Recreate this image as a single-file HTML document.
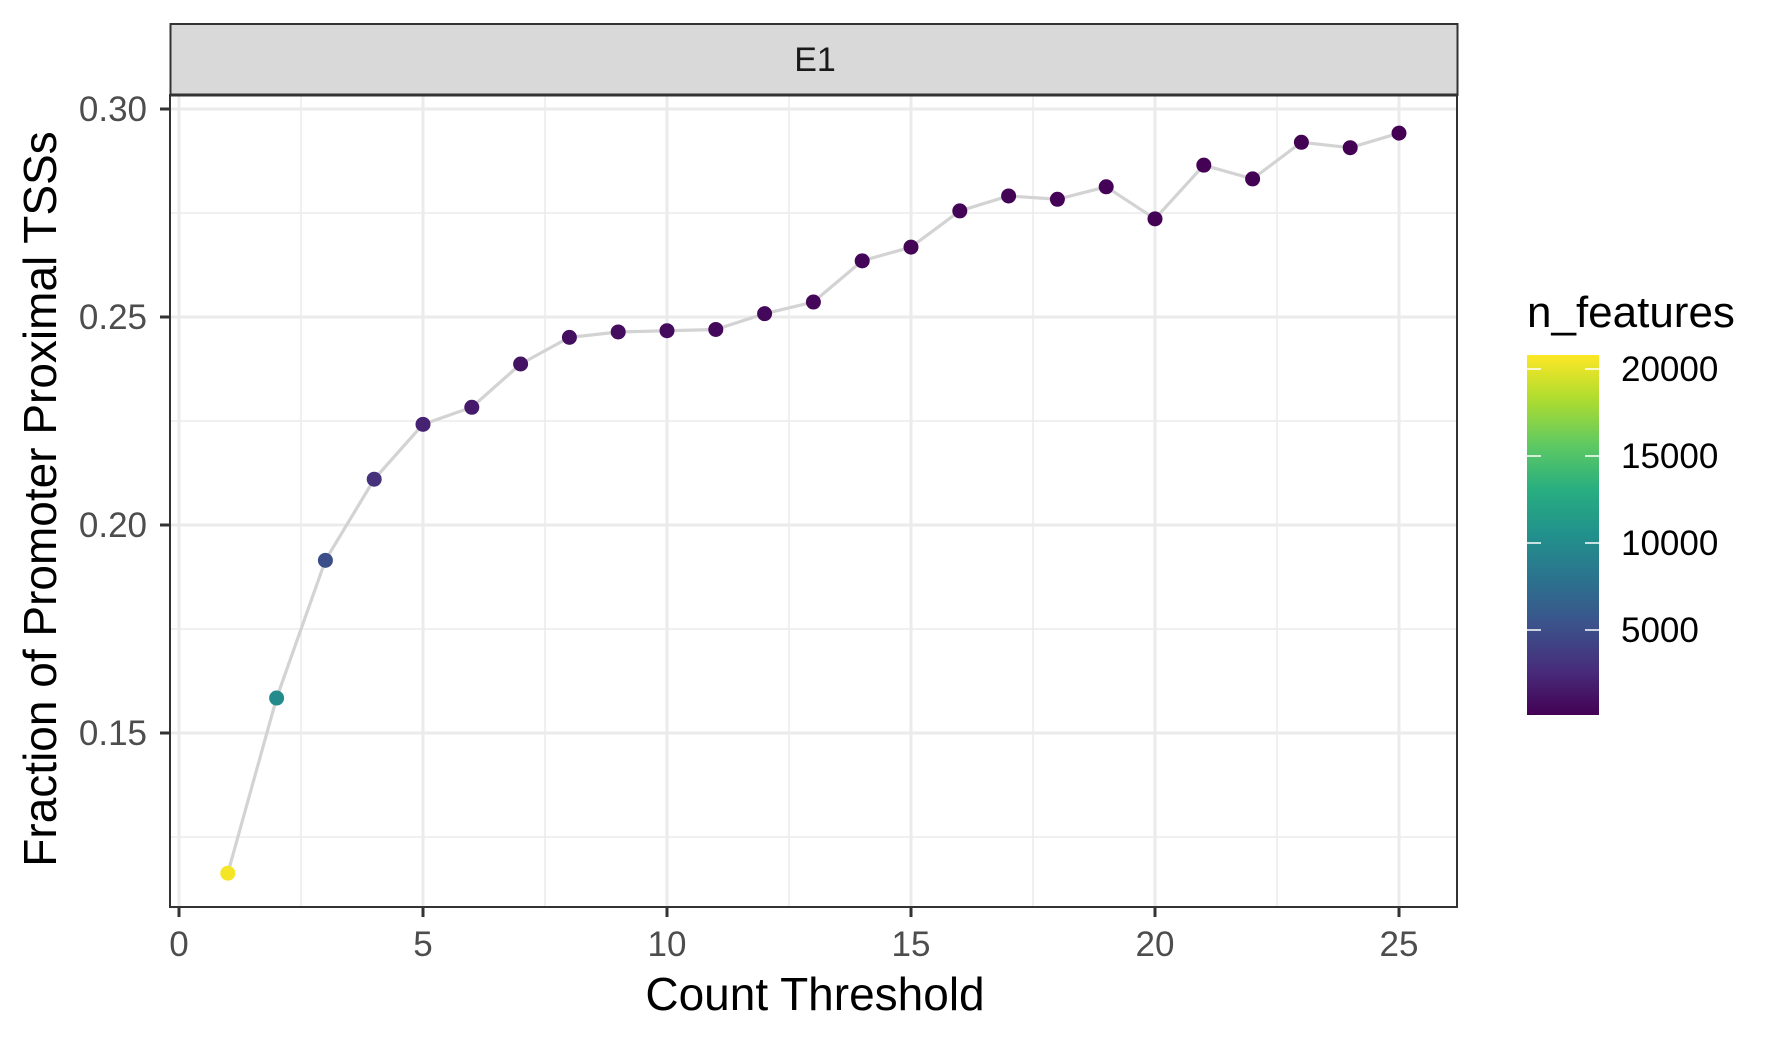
<!DOCTYPE html>
<html><head><meta charset="utf-8"><style>
html,body{margin:0;padding:0;background:#fff;}
svg{display:block;font-family:"Liberation Sans",sans-serif;}
</style></head><body>
<svg id="chart" width="1784" height="1043" viewBox="0 0 1784 1043" xmlns="http://www.w3.org/2000/svg">
<defs>
<linearGradient id="vir" x1="0" y1="1" x2="0" y2="0">
<stop offset="0" stop-color="#440154"/><stop offset="0.125" stop-color="#472d7b"/><stop offset="0.25" stop-color="#3b528b"/><stop offset="0.375" stop-color="#2c728e"/><stop offset="0.5" stop-color="#21918c"/><stop offset="0.625" stop-color="#28ae80"/><stop offset="0.75" stop-color="#5ec962"/><stop offset="0.875" stop-color="#addc30"/><stop offset="1" stop-color="#fde725"/>
</linearGradient>
</defs>
<g id="grid"></g>
<g id="marks"></g>
<g id="axes"></g>
<rect x="170.5" y="24" width="1287" height="71" fill="#d9d9d9" stroke="#333" stroke-width="2"/>
<line x1="170" y1="95" x2="1458" y2="95" stroke="#333" stroke-width="3"/>
<text x="815" y="71" font-size="34" fill="#1a1a1a" text-anchor="middle">E1</text>
<text x="815" y="1010" font-size="46" fill="#000" text-anchor="middle">Count Threshold</text>
<text transform="translate(56,499) rotate(-90)" font-size="46" fill="#000" text-anchor="middle">Fraction of Promoter Proximal TSSs</text>
<g id="legend">
<text x="1527" y="327" font-size="44" fill="#000">n_features</text>
<rect x="1527" y="355" width="72" height="360" fill="url(#vir)"/>
</g>
</svg>
<script>
const xValues=[1,2,3,4,5,6,7,8,9,10,11,12,13,14,15,16,17,18,19,20,21,22,23,24,25];
const yValues=[0.1163,0.1584,0.1915,0.2110,0.2242,0.2283,0.2387,0.2451,0.2464,0.2467,0.2470,0.2508,0.2536,0.2635,0.2668,0.2755,0.2791,0.2783,0.2813,0.2736,0.2865,0.2832,0.2920,0.2907,0.2942];
const nFeatures=[20500,10000,5000,3000,2100,1600,1200,950,800,680,580,500,440,390,340,300,270,240,220,200,180,160,150,140,130];
const xTicks=[0,5,10,15,20,25];
const yTicks=[0.15,0.20,0.25,0.30];
const yTickLabels=["0.15","0.20","0.25","0.30"];
const legendTicks=[5000,10000,15000,20000];

const NS='http://www.w3.org/2000/svg';
const PL=170,PR=1457,PT=95,PB=907;
const xs=v=>179+(v-0)*48.8;
const ys=v=>317-(v-0.25)*4160;
const cmin=115,cmax=20805;
const cs=v=>715-(v-cmin)/(cmax-cmin)*360;
const vir=['#440154','#472d7b','#3b528b','#2c728e','#21918c','#28ae80','#5ec962','#addc30','#fde725'];
function hex(h){return [1,3,5].map(i=>parseInt(h.substr(i,2),16));}
function color(v){let t=Math.max(0,Math.min(1,(v-cmin)/(cmax-cmin)))*8;let i=Math.min(7,Math.floor(t));let f=t-i;let a=hex(vir[i]),b=hex(vir[i+1]);return 'rgb('+a.map((c,k)=>Math.round(c+(b[k]-c)*f)).join(',')+')';}
function mk(tag,attrs,parent){const e=document.createElementNS(NS,tag);for(const k in attrs)e.setAttribute(k,attrs[k]);parent.appendChild(e);return e;}
const grid=document.getElementById('grid'),marks=document.getElementById('marks'),axes=document.getElementById('axes'),legend=document.getElementById('legend');
mk('rect',{x:PL,y:PT,width:PR-PL,height:PB-PT,fill:'#fff'},grid);
for(let i=0;i<xTicks.length;i++){const m=xTicks[i]+2.5;const xm=xs(m);if(xm<PR){const l=mk('line',{x1:xm,x2:xm,y1:PT,y2:PB,stroke:'#ebebeb','stroke-width':1.5},grid);}}
for(let i=0;i<yTicks.length;i++){const ym=ys(yTicks[i]-0.025);if(ym<PB){const l=mk('line',{x1:PL,x2:PR,y1:ym,y2:ym,stroke:'#ebebeb','stroke-width':1.5},grid);}}
xTicks.forEach(v=>{const l=mk('line',{x1:xs(v),x2:xs(v),y1:PT,y2:PB,stroke:'#ebebeb','stroke-width':3},grid);});
yTicks.forEach(v=>{const l=mk('line',{x1:PL,x2:PR,y1:ys(v),y2:ys(v),stroke:'#ebebeb','stroke-width':3},grid);});
const pts=xValues.map((x,i)=>xs(x)+','+ys(yValues[i])).join(' ');
const line=mk('polyline',{points:pts,fill:'none',stroke:'#d3d3d3','stroke-width':3.2,'stroke-linejoin':'round'},marks);


xValues.forEach((x,i)=>{const c=mk('circle',{cx:xs(x),cy:ys(yValues[i]),r:7.5,fill:color(nFeatures[i])},marks);

});
const border=mk('rect',{x:PL,y:PT,width:PR-PL,height:PB-PT,fill:'none',stroke:'#333','stroke-width':2},axes);


xTicks.forEach(v=>{const t=mk('line',{x1:xs(v),x2:xs(v),y1:PB,y2:PB+10,stroke:'#333','stroke-width':3},axes);
const tx=mk('text',{x:xs(v),y:956,'font-size':35,fill:'#4d4d4d','text-anchor':'middle'},axes);tx.textContent=String(v);});
yTicks.forEach((v,i)=>{const t=mk('line',{x1:PL-10,x2:PL,y1:ys(v),y2:ys(v),stroke:'#333','stroke-width':3},axes);
const tx=mk('text',{x:147,y:ys(v)+12,'font-size':35,fill:'#4d4d4d','text-anchor':'end'},axes);tx.textContent=yTickLabels[i];});
legendTicks.forEach(v=>{const y=cs(v);
const a=mk('line',{x1:1527,x2:1541,y1:y,y2:y,stroke:'#fff','stroke-width':1.5},legend);
const b=mk('line',{x1:1585,x2:1599,y1:y,y2:y,stroke:'#fff','stroke-width':1.5},legend);
const tx=mk('text',{x:1621,y:y+12,'font-size':35,fill:'#000'},legend);tx.textContent=String(v);});
</script>
</body></html>
